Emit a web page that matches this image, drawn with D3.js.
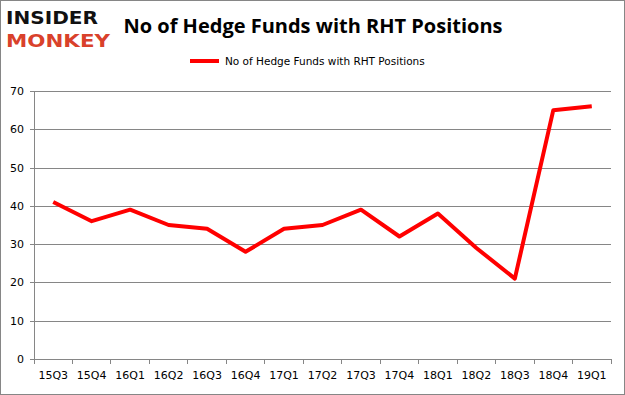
<html>
<head>
<meta charset="utf-8">
<script src="https://d3js.org/d3.v7.min.js"></script>
<style>
  body { margin: 0; background: #fff; }
  .grid line { stroke: #868686; stroke-width: 1; shape-rendering: crispEdges; }
  .grid path { stroke-width: 0; }
  .axis path, .axis line { stroke: #868686; shape-rendering: crispEdges; }
  .axis text { font-family: "DejaVu Sans", sans-serif; font-size: 11px; fill: #000; }
</style>
</head>
<body>
<div id="chart"></div>
<script>
var quarters = ["15Q3","15Q4","16Q1","16Q2","16Q3","16Q4","17Q1","17Q2","17Q3","17Q4","18Q1","18Q2","18Q3","18Q4","19Q1"];
var funds = [41, 36, 39, 35, 34, 28, 34, 35, 39, 32, 38, 29, 21, 65, 66];
var yTicks = [0, 10, 20, 30, 40, 50, 60, 70];
var seriesName = "No of Hedge Funds with RHT Positions";
var chartTitle = "No of Hedge Funds with RHT Positions";

var W = 625, H = 395;
var margin = {top: 91, right: 14, bottom: 36, left: 34};
var width = W - margin.left - margin.right,
    height = H - margin.top - margin.bottom;

var svg = d3.select("#chart").append("svg")
  .attr("width", W).attr("height", H);

// outer border
svg.append("rect")
  .attr("x", 0.5).attr("y", 0.5)
  .attr("width", W - 1).attr("height", H - 1)
  .attr("fill", "#fff").attr("stroke", "#868686");

// logo
svg.append("text")
  .attr("x", 6).attr("y", 24)
  .attr("font-family", "DejaVu Sans, sans-serif")
  .attr("font-weight", "bold").attr("font-size", 18)
  .attr("textLength", 92).attr("lengthAdjust", "spacingAndGlyphs")
  .attr("fill", "#111").text("INSIDER");
svg.append("text")
  .attr("x", 6).attr("y", 47)
  .attr("font-family", "DejaVu Sans, sans-serif")
  .attr("font-weight", "bold").attr("font-size", 18)
  .attr("textLength", 104).attr("lengthAdjust", "spacingAndGlyphs")
  .attr("fill", "#d9412b").text("MONKEY");

// title
svg.append("text")
  .attr("x", 313).attr("y", 33)
  .attr("text-anchor", "middle")
  .attr("font-family", "Open Sans, sans-serif")
  .attr("font-weight", "bold").attr("font-size", 20)
  .attr("fill", "#000").text(chartTitle);

// legend
svg.append("line")
  .attr("x1", 190).attr("x2", 219).attr("y1", 61).attr("y2", 61)
  .attr("stroke", "#ff0000").attr("stroke-width", 4);
svg.append("text")
  .attr("x", 225).attr("y", 65)
  .attr("font-family", "DejaVu Sans, sans-serif")
  .attr("font-size", 10.5).attr("fill", "#000")
  .text(seriesName);

var g = svg.append("g")
  .attr("transform", "translate(" + margin.left + "," + margin.top + ")");

var x = d3.scaleBand().domain(quarters).range([0, width]);
var y = d3.scaleLinear().domain([0, 70]).range([height, 0]);

// horizontal gridlines
g.append("g")
  .attr("class", "grid")
  .call(d3.axisLeft(y).tickValues(yTicks).tickSize(-width).tickFormat(""));

// y axis
g.append("g")
  .attr("class", "axis")
  .call(d3.axisLeft(y).tickValues(yTicks).tickSize(4).tickPadding(6));

// x axis with ticks on band edges
var xAxis = g.append("g")
  .attr("class", "axis")
  .attr("transform", "translate(0," + height + ")")
  .call(d3.axisBottom(x).tickSize(0).tickPadding(12));
xAxis.selectAll(".edge")
  .data(d3.range(quarters.length + 1))
  .enter().append("line")
  .attr("class", "edge")
  .attr("x1", function(i) { return i * x.step(); })
  .attr("x2", function(i) { return i * x.step(); })
  .attr("y1", 0).attr("y2", 5)
  .attr("stroke", "#868686");

// line
var line = d3.line()
  .x(function(d, i) { return x(quarters[i]) + x.bandwidth() / 2; })
  .y(function(d) { return y(d); });

g.append("path")
  .datum(funds)
  .attr("fill", "none")
  .attr("stroke", "#ff0000")
  .attr("stroke-width", 4)
  .attr("stroke-linejoin", "round")
  .attr("d", line);
</script>
</body>
</html>
